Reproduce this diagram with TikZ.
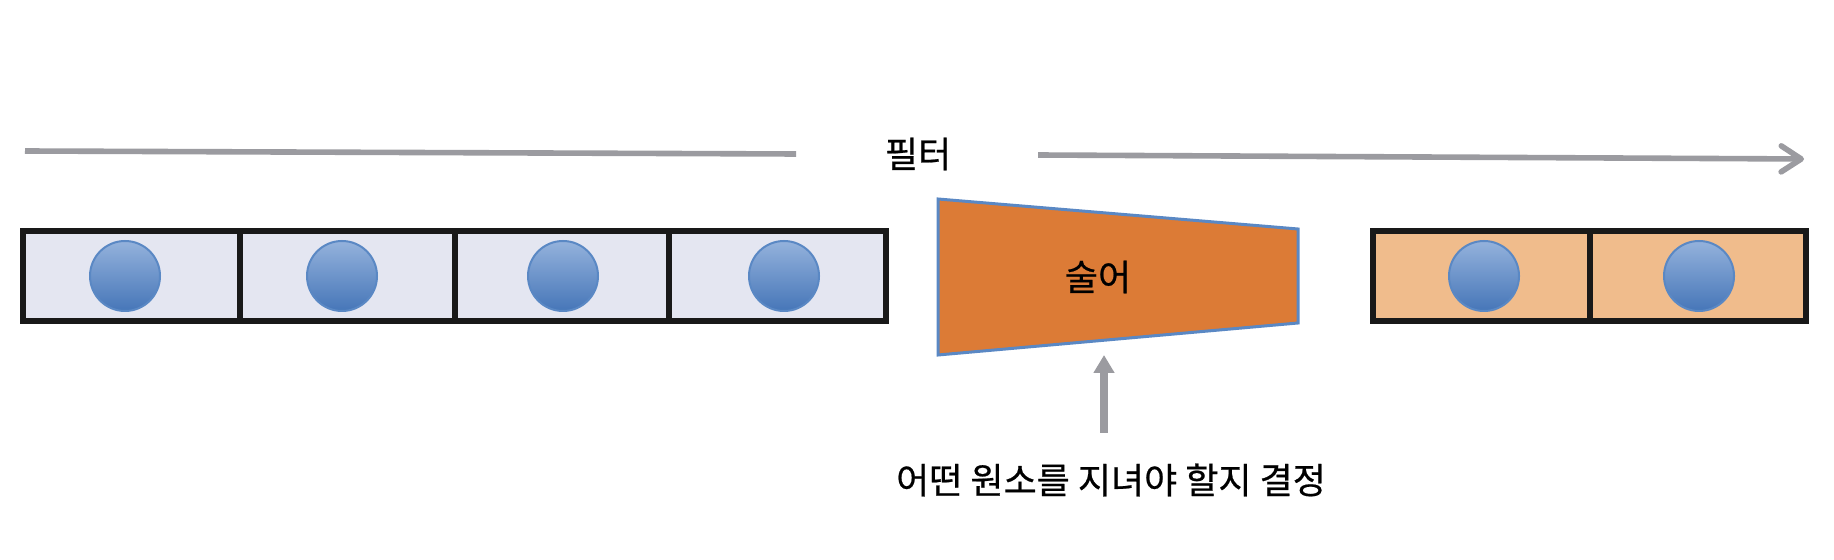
\documentclass[tikz,border=0pt]{standalone}
\usepackage{fontspec}
\setmainfont{Noto Sans CJK KR}[FakeBold=0.6]
\usetikzlibrary{arrows.meta}
\definecolor{flowgray}{HTML}{9B9BA0}
\definecolor{queuefill}{HTML}{E4E6F1}
\definecolor{passfill}{HTML}{F0BC8C}
\definecolor{predfill}{HTML}{DC7B36}
\definecolor{balledge}{HTML}{5A88C4}
\definecolor{balltop}{HTML}{94B2DC}
\definecolor{ballbottom}{HTML}{4676B8}
\tikzset{
  flow/.style={draw=flowgray, line width=2.8pt},
  strip/.style={draw=black!90, line width=3pt},
  ball/.style={circle, minimum size=35pt, inner sep=0pt, draw=balledge, line width=1pt,
    top color=balltop, bottom color=ballbottom},
  label/.style={font=\fontsize{18}{20}\selectfont, inner sep=0pt}
}
\begin{document}
\begin{tikzpicture}[x=0.5pt,y=-0.5pt]
  \useasboundingbox (0,0) rectangle (1834,560);

  % waiting elements
  \draw[strip, fill=queuefill] (23,231) rectangle (886,321);
  \foreach \x in {240,455,669}
    \draw[strip] (\x,231) -- (\x,321);
  \foreach \x/\n in {125/1,342/2,563/3,784/4}
    \node[ball] (in\n) at (\x,276) {};

  % passed elements
  \draw[strip, fill=passfill] (1373,231) rectangle (1806,321);
  \draw[strip] (1590,231) -- (1590,321);
  \foreach \x/\n in {1484/1,1699/2}
    \node[ball] (out\n) at (\x,276) {};

  % predicate
  \draw[draw=balledge, line width=1.5pt, fill=predfill]
    (938,199) -- (1298,229) -- (1298,323) -- (938,355) -- cycle;
  \node[label] (pred) at (1098,277) {술어};

  % flow
  \node[label] (filter) at (918,154) {필터};
  \coordinate (start) at (25,151);
  \coordinate (from) at (1038,155);
  \coordinate (end) at (1804,159);
  \draw[flow] (start) -- (796,154);
  \draw[flow, -{Straight Barb[length=10pt, width=13pt, line width=2.8pt, round]}] (from) -- (end);

  \node[label] (decide) at (1111,480) {어떤 원소를 지녀야 할지 결정};
  \coordinate (base) at (1104,433);
  \draw[flow, line width=3.6pt, -{Triangle[length=9pt, width=10pt]}] (base) -- (1104,355);
\end{tikzpicture}
\end{document}
